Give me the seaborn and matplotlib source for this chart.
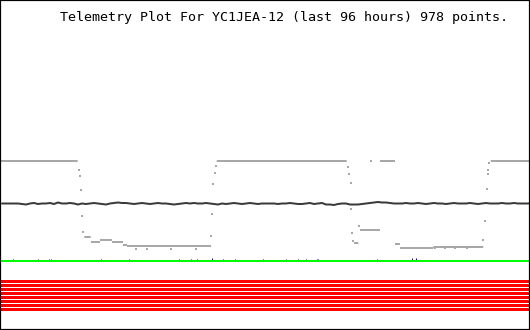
import numpy as np
import pandas as pd
import matplotlib
matplotlib.use("Agg")
import matplotlib.pyplot as plt
import seaborn as sns

# ---------------- data (hours 0..96, raw telemetry units) ----------------
title = "Telemetry Plot For YC1JEA-12 (last 96 hours) 978 points."

# gray channel: level runs (start hour, end hour, value)
gray_run_start = [0.0, 15.27, 16.48, 18.11, 20.29, 22.28, 23.00, 39.25, 64.12, 65.20, 68.83, 71.55, 72.45, 78.48, 88.88]
gray_run_end   = [14.07, 16.43, 18.11, 20.29, 22.28, 23.00, 38.22, 62.80, 64.90, 68.83, 71.55, 72.45, 78.48, 87.54, 96.0]
gray_run_value = [169, 93, 88, 90, 88, 85, 84, 169, 87, 100, 169, 86, 82, 83, 169]

# gray channel: isolated samples (transitions, outliers)
gray_pt_hour = [14.31, 14.49, 14.73, 14.91, 15.09, 24.63, 26.63, 30.97, 35.50,
                38.22, 38.45, 38.64, 38.89, 39.07,
                63.09, 63.27, 63.49, 63.63, 63.81, 63.99, 65.08, 67.20,
                78.79, 80.60, 82.42, 84.64,
                87.54, 87.85, 88.16, 88.34, 88.48, 88.63]
gray_pt_value = [160.0, 154.0, 140.0, 114.0, 98.3, 81.0, 81.0, 81.0, 81.0,
                 94.0, 116.0, 146.0, 157.0, 164.0,
                 163.3, 156.5, 146.7, 121.0, 97.3, 89.5, 104.0, 169.0,
                 81.7, 81.7, 81.7, 81.7,
                 90.0, 109.0, 140.7, 155.7, 160.0, 166.7]

# dark channel: samples every ~0.72 h
dark_value = [
    126.5, 126.5, 126.5, 126.5, 126.5, 126.0,
    125.5, 126.5, 127.0, 126.0, 126.5,
    126.5, 127.0, 126.0, 127.5, 126.5,
    126.5, 127.0, 126.5, 125.5, 126.5,
    126.0, 126.5, 127.0, 126.5, 126.0,
    125.5, 126.5, 127.0, 127.5, 127.0,
    127.0, 126.5, 126.0, 126.5, 127.0,
    126.5, 126.0, 126.5, 127.0, 126.5,
    126.5, 126.0, 125.5, 126.0, 126.5,
    127.0, 126.5, 127.0, 126.5, 126.5,
    127.0, 126.5, 126.0, 125.5, 126.5,
    126.0, 126.5, 127.0, 126.5, 126.0,
    126.5, 127.0, 126.5, 126.0, 126.5,
    126.5, 126.5, 126.5, 126.0, 126.5,
    126.5, 127.0, 126.5, 126.0, 126.0,
    126.5, 127.0, 126.0, 126.5, 127.0,
    125.5, 125.5, 125.0, 126.0, 126.5,
    126.5, 125.5, 125.5, 125.5, 126.0,
    126.5, 127.0, 127.5, 128.0, 127.5,
    127.5, 127.0, 126.5, 126.5, 126.5,
    127.0, 126.5, 126.5, 127.0, 126.5,
    126.0, 126.5, 127.0, 126.5, 126.5,
    126.0, 126.5, 127.0, 126.5, 126.5,
    126.5, 127.0, 126.5, 126.0, 126.5,
    127.0, 126.5, 126.5, 126.5, 127.0,
    126.5, 126.5, 127.0, 126.5, 126.5,
    126.5, 126.5,
]
dark_start_hour = 0.36
dark_end_hour = 96.0

# green channel level
green_level = 69.0

# blue channel spikes (hour, value), baseline at green level
blue_hour = [2.41, 6.94, 8.88, 9.24, 18.35, 23.42, 32.48, 34.65, 35.74, 38.45, 40.45,
             42.62, 47.69, 51.80, 54.03, 55.43, 57.36, 57.65, 68.34, 74.68, 75.35]
blue_value = [71, 71, 71, 71, 71, 71, 71, 71, 71, 72, 71,
              71, 71, 71, 71, 71, 71, 71, 71, 72, 72]

# red digital channels (all set)
red_levels = [48.5, 44.5, 40.5, 36.5, 32.5, 28.5, 24.5, 20.5]

# ---------------- plot ----------------
sns.set_style("white")
W, H, DPI = 530, 330, 100
px = 72.0 / DPI  # points per pixel

fig = plt.figure(figsize=(W / DPI, H / DPI), dpi=DPI)
ax = fig.add_axes([0, 0, 1, 1])
ax.set_xlim(0, 96)
ax.set_ylim(0, 330)

# gray runs
runs = pd.DataFrame({
    "hour": [v for s, e in zip(gray_run_start, gray_run_end) for v in (s, e)],
    "value": [v for v in gray_run_value for _ in (0, 1)],
    "run": [i for i in range(len(gray_run_value)) for _ in (0, 1)],
})
sns.lineplot(data=runs, x="hour", y="value", units="run", estimator=None,
             color="#a8a8a8", linewidth=2 * px, ax=ax, legend=False,
             solid_capstyle="butt", snap=False)
pts = pd.DataFrame({"hour": gray_pt_hour, "value": gray_pt_value})
sns.scatterplot(data=pts, x="hour", y="value", color="#a8a8a8", marker="s",
                s=3.5, linewidth=0, ax=ax, legend=False)

# dark line
dark = pd.DataFrame({"hour": np.linspace(dark_start_hour, dark_end_hour, len(dark_value)),
                     "value": dark_value})
sns.lineplot(data=dark, x="hour", y="value", color="#3a3a3a", linewidth=2 * px,
             ax=ax, legend=False)

# blue spikes
ax.vlines(blue_hour, green_level, blue_value, color="#0000d0", linewidth=1.0 * px)

# green line
ax.axhline(green_level, color="#00ff00", linewidth=2 * px, snap=False)

# red lines
for i, lv in enumerate(red_levels):
    ax.axhline(lv, color="#ff0000", linewidth=3 * px, snap=False)

ax.set_xlabel("")
ax.set_ylabel("")
ax.set_xticks([])
ax.set_yticks([])
for s in ax.spines.values():
    s.set_visible(True)
    s.set_color("black")
    s.set_linewidth(2.2 * px)

fig.text(60 / W, 1 - 21 / H, title, fontfamily="DejaVu Sans Mono", fontsize=9.6,
         ha="left", va="baseline", color="black")

fig.savefig("out.png", dpi=DPI, facecolor="white")
